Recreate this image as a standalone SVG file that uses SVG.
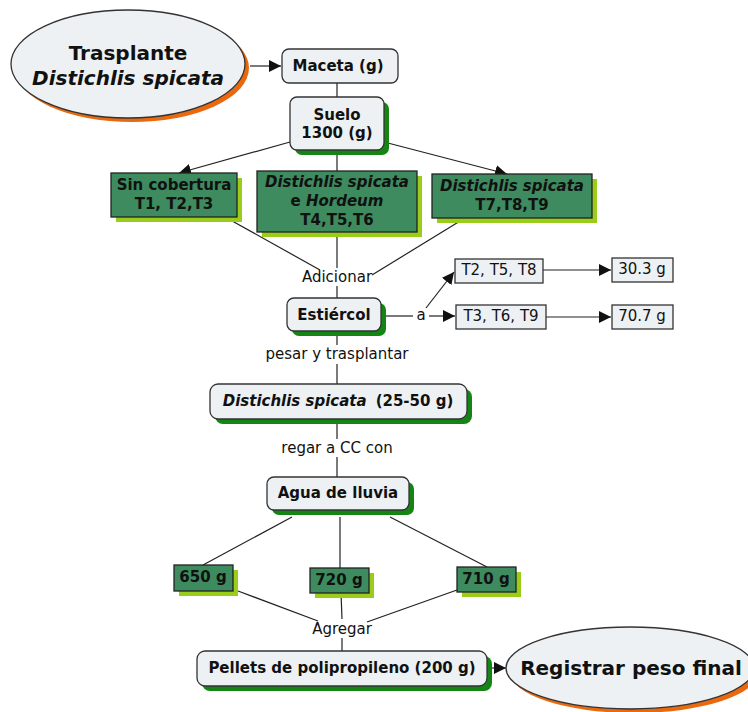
<svg xmlns="http://www.w3.org/2000/svg" width="748" height="712" viewBox="0 0 748 712">
<defs>
<style>
.t{font-family:"DejaVu Sans","Verdana",sans-serif;fill:#111;text-anchor:middle;dominant-baseline:central}
.b{font-weight:bold;font-size:15px}
.n{font-size:15px}
.big{font-weight:bold;font-size:20px}
.i{font-style:italic}
.node{fill:#edf1f4;stroke:#333;stroke-width:1.3}
.gsh{fill:#148514}
.ysh{fill:#9acd1a}
.osh{fill:#e9690f}
.gbox{fill:#3d8b5f;stroke:#222;stroke-width:1.3}
.rect{fill:#edf1f4;stroke:#333;stroke-width:1.3}
.c line{stroke:#222;stroke-width:1.2}
</style>
<marker id="ah" viewBox="0 0 10 10" refX="10" refY="5" markerWidth="12" markerHeight="12" markerUnits="userSpaceOnUse" orient="auto">
<path d="M0,0 L10,5 L0,10 z" fill="#111"/>
</marker>
</defs>
<rect width="748" height="712" fill="#fff"/>

<g class="c">
<line x1="250" y1="66" x2="281" y2="66" marker-end="url(#ah)"/>
<line x1="337" y1="83" x2="337" y2="97"/>
<line x1="290" y1="142" x2="179" y2="173" marker-end="url(#ah)"/>
<line x1="337" y1="150" x2="337" y2="171"/>
<line x1="384" y1="142" x2="507" y2="174" marker-end="url(#ah)"/>
<line x1="225" y1="217" x2="320" y2="270"/>
<line x1="337" y1="232" x2="337" y2="268"/>
<line x1="465" y1="218" x2="372" y2="275"/>
<line x1="337" y1="286" x2="337" y2="298"/>
<line x1="381" y1="316" x2="413" y2="316"/>
<line x1="429" y1="316" x2="455" y2="316" marker-end="url(#ah)"/>
<line x1="426" y1="308" x2="454" y2="272" marker-end="url(#ah)"/>
<line x1="543" y1="270" x2="611" y2="270" marker-end="url(#ah)"/>
<line x1="546" y1="317" x2="611" y2="317" marker-end="url(#ah)"/>
<line x1="337" y1="331" x2="337" y2="345"/>
<line x1="337" y1="364" x2="337" y2="384"/>
<line x1="337" y1="419" x2="337" y2="439"/>
<line x1="337" y1="457" x2="337" y2="477"/>
<line x1="292" y1="517" x2="203" y2="565"/>
<line x1="340" y1="517" x2="340" y2="568"/>
<line x1="390" y1="517" x2="487" y2="567"/>
<line x1="238" y1="591" x2="318" y2="621"/>
<line x1="341" y1="593" x2="342" y2="619"/>
<line x1="457" y1="590" x2="367" y2="622"/>
<line x1="342" y1="638" x2="342" y2="651"/>
<line x1="487" y1="668" x2="506" y2="668" marker-end="url(#ah)"/>
</g>

<g id="trasplante">
<ellipse cx="132" cy="68" rx="117" ry="54" class="osh"/>
<ellipse cx="128" cy="64" rx="117" ry="54" class="node"/>
<text x="128" y="53" class="t big">Trasplante</text>
<text x="128" y="78" class="t big i">Distichlis spicata</text>
</g>

<g id="maceta">
<rect x="282" y="49" width="116" height="34" rx="7" class="node"/>
<text x="338" y="66" class="t b">Maceta (g)</text>
</g>

<g id="suelo">
<rect x="295" y="102" width="94" height="53" rx="7" class="gsh"/>
<rect x="290" y="97" width="94" height="53" rx="7" class="node"/>
<text x="337" y="115" class="t b">Suelo</text>
<text x="337" y="133" class="t b">1300 (g)</text>
</g>

<g id="sincobertura">
<rect x="116" y="178" width="126" height="44" class="ysh"/>
<rect x="111" y="173" width="126" height="44" class="gbox"/>
<text x="174" y="185" class="t b">Sin cobertura</text>
<text x="174" y="204" class="t b">T1, T2,T3</text>
</g>

<g id="dshordeum">
<rect x="262" y="176" width="160" height="61" class="ysh"/>
<rect x="257" y="171" width="160" height="61" class="gbox"/>
<text x="337" y="182" class="t b i">Distichlis spicata</text>
<text x="337" y="201" class="t b">e <tspan font-style="italic">Hordeum</tspan></text>
<text x="337" y="220" class="t b">T4,T5,T6</text>
</g>

<g id="ds">
<rect x="437" y="179" width="160" height="44" class="ysh"/>
<rect x="432" y="174" width="160" height="44" class="gbox"/>
<text x="512" y="186" class="t b i">Distichlis spicata</text>
<text x="512" y="205" class="t b">T7,T8,T9</text>
</g>

<g id="adicionar">
<text x="337" y="277" class="t n">Adicionar</text>
</g>

<g id="estiercol">
<rect x="292" y="303" width="94" height="33" rx="7" class="gsh"/>
<rect x="287" y="298" width="94" height="33" rx="7" class="node"/>
<text x="334" y="315" class="t b">Estiércol</text>
</g>

<g id="a">
<text x="421" y="315" class="t n">a</text>
</g>

<g id="t258">
<rect x="455" y="259" width="88" height="24" class="rect"/>
<text x="499" y="270" class="t n">T2, T5, T8</text>
</g>

<g id="t369">
<rect x="456" y="305" width="90" height="24" class="rect"/>
<text x="501" y="316" class="t n">T3, T6, T9</text>
</g>

<g id="g303">
<rect x="612" y="258" width="61" height="24" class="rect"/>
<text x="642" y="269" class="t n">30.3 g</text>
</g>

<g id="g707">
<rect x="612" y="305" width="61" height="24" class="rect"/>
<text x="642" y="316" class="t n">70.7 g</text>
</g>

<g id="pesar">
<text x="337" y="354" class="t n">pesar y trasplantar</text>
</g>

<g id="dsweight">
<rect x="215" y="389" width="257" height="35" rx="8" class="gsh"/>
<rect x="210" y="384" width="257" height="35" rx="8" class="node"/>
<text x="338" y="401" class="t b"><tspan font-style="italic">Distichlis spicata</tspan><tspan dx="9">(25-50 g)</tspan></text>
</g>

<g id="regar">
<text x="337" y="448" class="t n">regar a CC con</text>
</g>

<g id="agua">
<rect x="272" y="482" width="142" height="33" rx="7" class="gsh"/>
<rect x="267" y="477" width="142" height="33" rx="7" class="node"/>
<text x="338" y="493" class="t b">Agua de lluvia</text>
</g>

<g id="g650">
<rect x="179" y="570" width="59" height="26" class="ysh"/>
<rect x="174" y="565" width="59" height="26" class="gbox"/>
<text x="203" y="577" class="t b">650 g</text>
</g>

<g id="g720">
<rect x="315" y="573" width="59" height="25" class="ysh"/>
<rect x="310" y="568" width="59" height="25" class="gbox"/>
<text x="339" y="580" class="t b">720 g</text>
</g>

<g id="g710">
<rect x="462" y="572" width="59" height="25" class="ysh"/>
<rect x="457" y="567" width="59" height="25" class="gbox"/>
<text x="486" y="579" class="t b">710 g</text>
</g>

<g id="agregar">
<text x="342" y="629" class="t n">Agregar</text>
</g>

<g id="pellets">
<rect x="202" y="656" width="290" height="35" rx="8" class="gsh"/>
<rect x="197" y="651" width="290" height="35" rx="8" class="node"/>
<text x="342" y="668" class="t b">Pellets de polipropileno (200 g)</text>
</g>

<g id="registrar">
<ellipse cx="634" cy="672" rx="124" ry="41" class="osh"/>
<ellipse cx="630" cy="668" rx="124" ry="41" class="node"/>
<text x="631" y="668" class="t big">Registrar peso final</text>
</g>
</svg>
